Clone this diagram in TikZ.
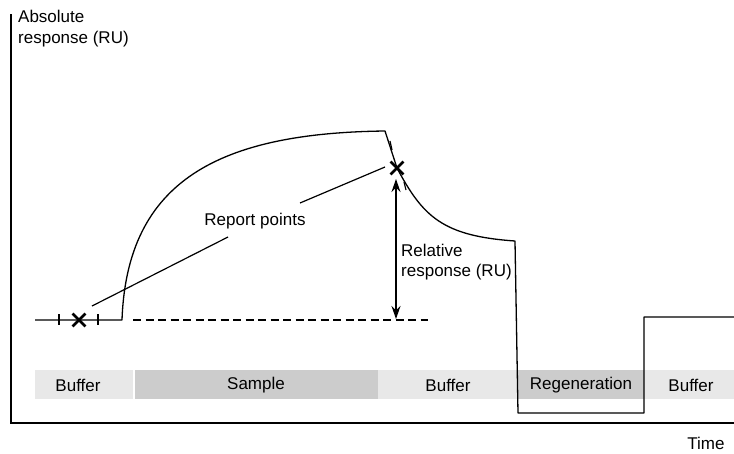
\documentclass[tikz,border=0pt]{standalone}
\usepackage{fontspec}
\setmainfont{Liberation Sans}
\usetikzlibrary{arrows.meta,shapes.misc}
\begin{document}
\begin{tikzpicture}[x=1pt,y=-1pt,
  lab/.style={font=\fontsize{17}{20.5}\selectfont, inner sep=0pt, align=left},
  trace/.style={line width=1.3pt, line join=round},
  band/.style={draw=none, fill=#1},
  rpmark/.style={cross out, draw, line width=2.8pt, minimum size=10pt, inner sep=0pt},
  tickmark/.style={line width=1.2pt}]
\useasboundingbox (0,0) rectangle (734,453);
% axes
\draw[line width=1.2pt] (11,14) -- (11,423) -- (734,423);
\node[lab, anchor=north west] (ylab) at (18,10) {Absolute\\response (RU)};
\node[lab] (xlab) at (706,443) {Time};
% bands
\fill[band=black!9] (35,370) rectangle (133,399);
\fill[band=black!20] (135,370) rectangle (378,399);
\fill[band=black!9] (378,370) rectangle (518,399);
\fill[band=black!20] (518,370) rectangle (644,399);
\fill[band=black!9] (644,370) rectangle (734,399);
\node[lab] (b1) at (78,385) {Buffer};
\node[lab] (s1) at (256,385) {Sample};
\node[lab] (b2) at (448,385) {Buffer};
\node[lab] (rg) at (581,385) {Regeneration};
\node[lab] (b3) at (691,385) {Buffer};
% trace
\draw[trace] (35,320) -- (122,320) .. controls (127,180) and (220,133) .. (385,131)
  -- (397,168) .. controls (423,217) and (443,236) .. (515,241)
  -- (518,413) -- (644,413) -- (644,317) -- (734,317);
% ticks
\draw[tickmark] (59,314) -- (59,325);
\draw[tickmark] (98,314) -- (98,325);
\draw[tickmark] (390,141) -- (392,150);
\draw[tickmark] (404,182) -- (406,190);
% report point markers
\node[rpmark] (rp1) at (79,320) {};
\node[rpmark] (rp2) at (397,168) {};
% dashed baseline
\draw[line width=1.2pt, dash pattern=on 8pt off 4.5pt] (133,320) -- (428,320);
% relative response arrow
\coordinate (at) at (396,179);
\coordinate (ab) at (396,319);
\draw[line width=1.2pt, {Stealth[length=13pt,width=9pt]}-{Stealth[length=13pt,width=9pt]}] (at) -- (ab);
\node[lab, anchor=west] (rel) at (401,262) {Relative\\response (RU)};
% report points label
\node[lab] (rp) at (255,221) {Report points};
\coordinate (l1a) at (228,237);
\coordinate (l1b) at (92,306);
\coordinate (l2a) at (300,203);
\coordinate (l2b) at (385,167);
\draw[line width=1.2pt] (l1a) -- (l1b);
\draw[line width=1.2pt] (l2a) -- (l2b);
\end{tikzpicture}
\end{document}
